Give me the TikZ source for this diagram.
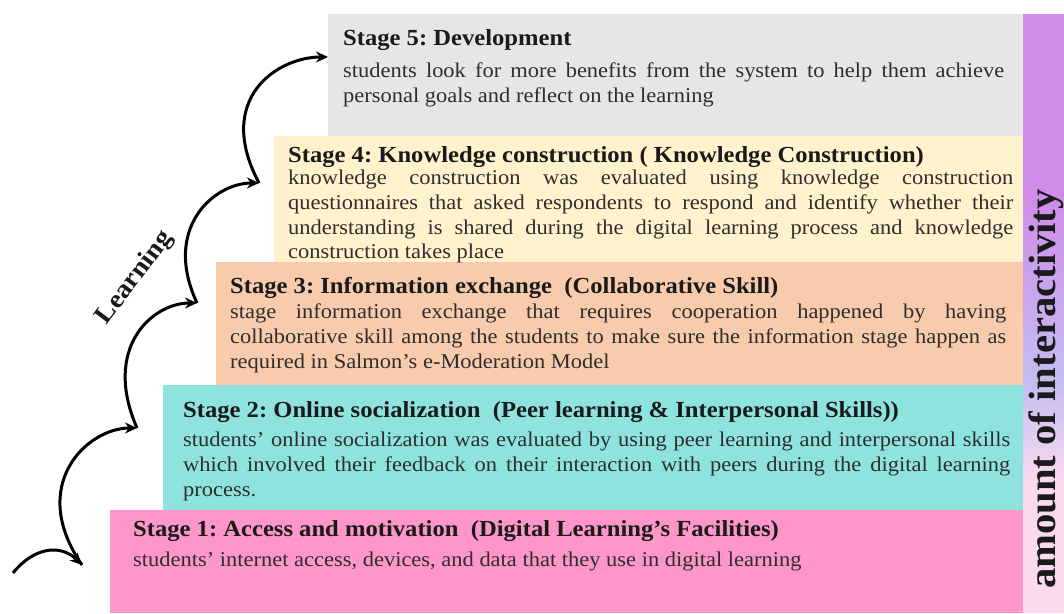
\documentclass[tikz,border=0pt]{standalone}
\usepackage{fontspec}
\setmainfont{Liberation Serif}[FakeStretch=1.07]
\usetikzlibrary{arrows.meta}
\definecolor{devgray}{HTML}{E6E6E6}
\definecolor{kcyellow}{HTML}{FFF2CC}
\definecolor{iepeach}{HTML}{F8CBAD}
\definecolor{oscyan}{HTML}{8EE3DF}
\definecolor{ampink}{HTML}{FF96C9}
\definecolor{bartop}{HTML}{CF8CE9}
\definecolor{barmid}{HTML}{C4BDF0}
\definecolor{barbot}{HTML}{FBDAEF}
\definecolor{titlecol}{HTML}{1A1A1A}
\definecolor{bodycol}{HTML}{2E2E2E}
\frenchspacing

\begin{document}
\begin{tikzpicture}[x=1pt,y=1pt,
    stagetitle/.style={anchor=base west,inner sep=0pt,text=titlecol,
        font=\fontsize{23}{28}\selectfont\bfseries},
    stagebody/.style={anchor=north west,inner sep=0pt,align=justify,text=bodycol,
        font=\fontsize{21}{24.7}\selectfont},
    stair/.style={line width=3pt,-{Stealth[length=12pt,width=11pt]}}]
    \useasboundingbox (0,0) rectangle (1064,613);
    % steps
    \fill [devgray] (328,477) rectangle (1023,599);
    \fill [kcyellow] (274,351) rectangle (1023,477);
    \fill [iepeach] (216,228) rectangle (1023,351);
    \fill [oscyan] (163,103) rectangle (1023,228);
    \fill [ampink] (110,0) rectangle (1023,103);
    % interactivity bar
    \fill [bartop] (1023,420) rectangle (1064,599);
    \shade [top color=bartop,bottom color=barmid] (1023,230) rectangle (1064,420.5);
    \shade [top color=barmid,bottom color=barbot] (1023,130) rectangle (1064,230.5);
    \fill [barbot] (1023,0) rectangle (1064,130.5);
    \node [rotate=90,inner sep=0pt,text=titlecol,font=\fontsize{38}{40}\selectfont\bfseries] (axis) at (1046,224) {amount of interactivity};
    % stage 5
    \node [stagetitle] (t5) at (343,567) {Stage 5: Development};
    \node [stagebody,text width=661pt] (b5) at (343,550) {students look for more benefits from the system to help them achieve\linebreak personal goals and reflect on the learning};
    % stage 4
    \node [stagetitle] (t4) at (288,450) {Stage 4: Knowledge construction ( Knowledge Construction)};
    \node [stagebody,text width=725pt] (b4) at (288,443) {knowledge construction was evaluated using knowledge construction\linebreak questionnaires that asked respondents to respond and identify whether their\linebreak understanding is shared during the digital learning process and knowledge\linebreak construction takes place};
    % stage 3
    \node [stagetitle] (t3) at (230,319) {Stage 3: Information exchange~~(Collaborative Skill)};
    \node [stagebody,text width=776pt] (b3) at (230,309) {stage information exchange that requires cooperation happened by having\linebreak collaborative skill among the students to make sure the information stage happen as\linebreak required in Salmon’s e-Moderation Model};
    % stage 2
    \node [stagetitle] (t2) at (183,195) {Stage 2: Online socialization~~(Peer learning \& Interpersonal Skills))};
    \node [stagebody,text width=827pt] (b2) at (183,181) {students’ online socialization was evaluated by using peer learning and interpersonal skills\linebreak which involved their feedback on their interaction with peers during the digital learning\linebreak process.};
    % stage 1
    \node [stagetitle] (t1) at (133,77) {Stage 1: Access and motivation~~(Digital Learning’s Facilities)};
    \node [stagebody,text width=870pt] (b1) at (133,61) {students’ internet access, devices, and data that they use in digital learning};
    % learning path
    \coordinate (c0) at (13,40);
    \coordinate (c1) at (82,48);
    \coordinate (c2) at (137,185);
    \coordinate (c3) at (197,310);
    \coordinate (c4) at (259,430);
    \coordinate (c5) at (328,556);
    \draw [stair] (c0) .. controls +(20,25) and +(-22,22) .. (c1);
    \draw [stair] (c1) .. controls +(-55,80) and +(-50,0) .. (c2);
    \draw [stair] (c2) .. controls +(-35,80) and +(-45,0) .. (c3);
    \draw [stair] (c3) .. controls +(-35,75) and +(-45,0) .. (c4);
    \draw [stair] (c4) .. controls +(-45,85) and +(-50,0) .. (c5);
    \node [rotate=53,inner sep=0pt,text=titlecol,font=\fontsize{26}{30}\selectfont\bfseries] (learn) at (135,335) {Learning};
\end{tikzpicture}
\end{document}
